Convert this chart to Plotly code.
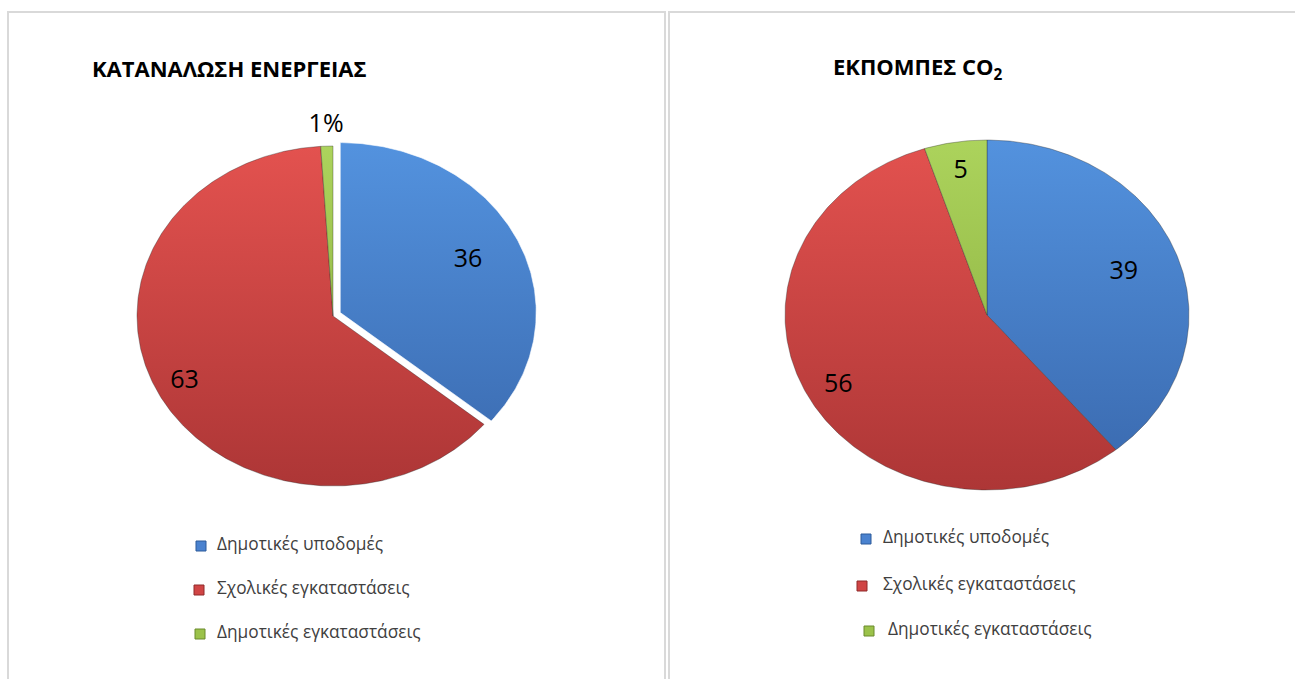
import numpy as np
import plotly.graph_objects as go

# ---------------- data ----------------
categories = ["Δημοτικές υποδομές", "Σχολικές εγκαταστάσεις", "Δημοτικές εγκαταστάσεις"]
energy_values = [36, 63, 1]
energy_labels = ["36", "63", "1%"]
co2_values = [39, 56, 5]
co2_labels = ["39", "56", "5"]
titles = ["ΚΑΤΑΝΑΛΩΣΗ ΕΝΕΡΓΕΙΑΣ", "ΕΚΠΟΜΠΕΣ CO<sub>2</sub>"]

# ---------------- style ----------------
W, H = 1295, 679
col_top = ["#5392de", "#e3524f", "#acd35c"]
col_bot = ["#3968ad", "#ad3636", "#84a83a"]
col_mid = ["#4a82cf", "#d04545", "#9bc24a"]
col_edge = ["#2c5a9a", "#8f2b2b", "#6b8a2c"]
FONT = "Open Sans"

panels = [
    dict(values=energy_values, labels=energy_labels, title=titles[0],
         cx=333, cy=316, rx=196, ry=170, pull=[8, 0, 0],
         label_frac=[0.72, 0.85, 1.12], title_xy=(90, 68),
         leg_marker_x=[201, 199, 200], leg_text_x=[217, 217, 217], leg_y=[546, 590, 634]),
    dict(values=co2_values, labels=co2_labels, title=titles[1],
         cx=987, cy=315, rx=202, ry=175, pull=[0, 0, 0],
         label_frac=[0.72, 0.84, 0.83], title_xy=(831, 68),
         leg_marker_x=[866, 862, 869], leg_text_x=[883, 883, 888], leg_y=[539, 586, 631]),
]

fig = go.Figure()

for p in panels:
    vals = np.array(p["values"], dtype=float)
    frac = vals / vals.sum()
    cum = np.concatenate([[0.0], np.cumsum(frac)])
    cx, cy, rx, ry = p["cx"], p["cy"], p["rx"], p["ry"]
    for i in range(len(vals)):
        a0, a1 = cum[i] * 2 * np.pi, cum[i + 1] * 2 * np.pi
        mid = (a0 + a1) / 2
        dx = p["pull"][i] * np.sin(mid)
        dy = -p["pull"][i] * np.cos(mid)
        t = np.linspace(a0, a1, max(8, int((a1 - a0) * 80)))
        xs = np.concatenate([[cx], cx + rx * np.sin(t), [cx]]) + dx
        ys = np.concatenate([[cy], cy - ry * np.cos(t), [cy]]) + dy
        fig.add_trace(go.Scatter(
            x=xs, y=ys, mode="lines", fill="toself",
            line=dict(color="rgba(255,255,255,0.6)" if p["pull"][i] else "rgba(40,40,40,0.35)", width=1),
            fillgradient=dict(type="vertical",
                              colorscale=[[0, col_top[i]], [1, col_bot[i]]],
                              start=cy - ry, stop=cy + ry),
            hoverinfo="skip", showlegend=False))
        # label
        f = p["label_frac"][i]
        fig.add_trace(go.Scatter(
            x=[cx + dx + rx * f * np.sin(mid)], y=[cy + dy - ry * f * np.cos(mid)],
            mode="text", text=[p["labels"][i]],
            textfont=dict(family=FONT, size=25, color="#000000"),
            hoverinfo="skip", showlegend=False))
    # legend
    for i, cat in enumerate(categories):
        fig.add_trace(go.Scatter(
            x=[p["leg_marker_x"][i]], y=[p["leg_y"][i]], mode="markers",
            marker=dict(symbol="square", size=10, color=col_mid[i],
                        line=dict(color=col_edge[i], width=1)),
            hoverinfo="skip", showlegend=False))
        fig.add_trace(go.Scatter(
            x=[p["leg_text_x"][i]], y=[p["leg_y"][i]], mode="text",
            text=[cat], textposition="middle right",
            textfont=dict(family=FONT, size=17.3, color="#404040"),
            hoverinfo="skip", showlegend=False))
    fig.add_annotation(x=p["title_xy"][0], y=p["title_xy"][1], xref="x", yref="y",
                       text="<b>" + p["title"] + "</b>", showarrow=False,
                       xanchor="left", yanchor="middle",
                       font=dict(family=FONT, size=22, color="#000000"))

# panel borders
fig.add_shape(type="rect", x0=8, x1=665, y0=12, y1=720, xref="x", yref="y",
              line=dict(color="#d9d9d9", width=2), layer="below")
fig.add_shape(type="rect", x0=669, x1=1320, y0=12, y1=720, xref="x", yref="y",
              line=dict(color="#d9d9d9", width=2), layer="below")

fig.update_layout(
    width=W, height=H, margin=dict(l=0, r=0, t=0, b=0),
    paper_bgcolor="white", plot_bgcolor="white",
    xaxis=dict(range=[0, W], visible=False, fixedrange=True),
    yaxis=dict(range=[H, 0], visible=False, fixedrange=True),
    font=dict(family=FONT),
)

fig.write_html("out.html", config={"displayModeBar": False},
               post_script="document.body.style.margin='0';document.body.style.overflow='hidden';")
